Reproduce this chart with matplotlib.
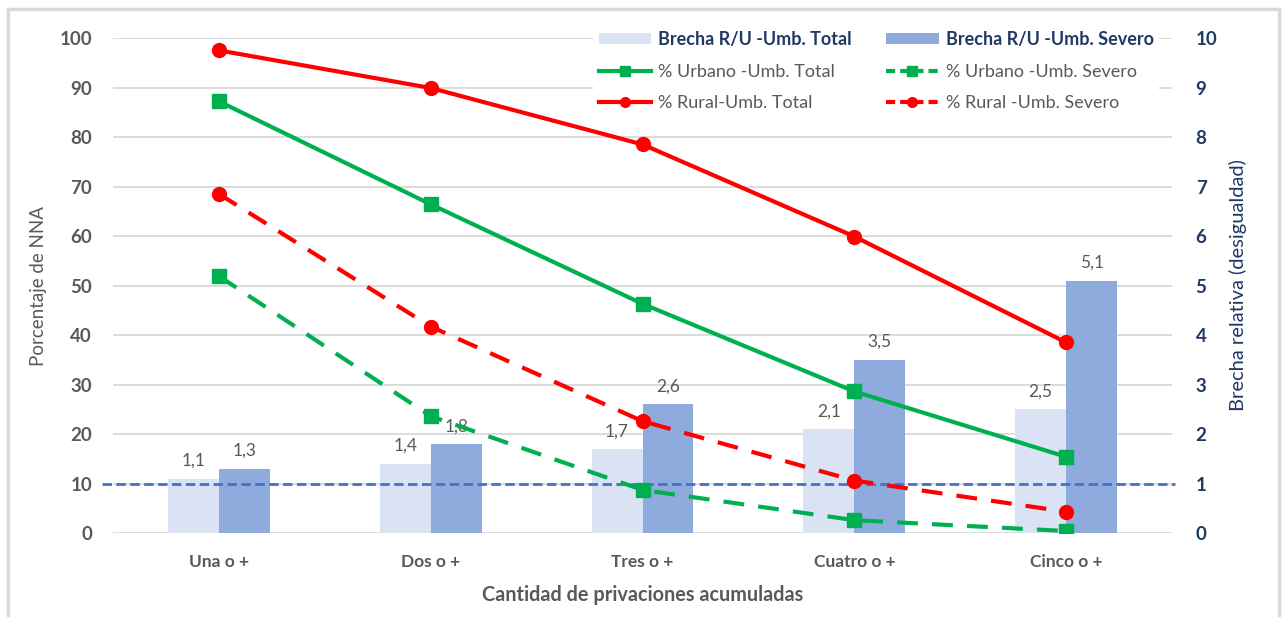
import matplotlib
matplotlib.use("Agg")
import matplotlib.pyplot as plt
from matplotlib.patches import Rectangle, Patch
from matplotlib.lines import Line2D
import numpy as np

plt.rcParams['font.family'] = ['Lato', 'DejaVu Sans']

categories = ["Una o +", "Dos o +", "Tres o +", "Cuatro o +", "Cinco o +"]

# Porcentaje de NNA con privaciones (eje izquierdo)
urbano_total = [87.2, 66.4, 46.3, 28.6, 15.4]
urbano_severo = [51.9, 23.6, 8.7, 2.6, 0.4]
rural_total = [97.5, 89.9, 78.5, 59.9, 38.5]
rural_severo = [68.5, 41.7, 22.6, 10.6, 4.3]

# Brecha relativa rural/urbano (eje derecho)
brecha_total = [1.1, 1.4, 1.7, 2.1, 2.5]
brecha_severo = [1.3, 1.8, 2.6, 3.5, 5.1]

GRAY = "#595959"
NAVY = "#1F3864"
GREEN = "#00B050"
RED = "#FF0000"
LIGHT = "#DAE3F3"
MID = "#8FAADC"
BLUE = "#4472C4"
GRID = "#D9D9D9"

fig = plt.figure(figsize=(12.83, 6.17), dpi=100)
ax2 = fig.add_axes([0.0881, 0.1361, 0.8254, 0.8023])
ax = ax2.twinx()
ax2.yaxis.tick_right()
ax2.yaxis.set_label_position("right")
ax.yaxis.tick_left()
ax.yaxis.set_label_position("left")
ax.set_zorder(ax2.get_zorder() + 1)
ax.patch.set_visible(False)

x = np.arange(len(categories))
w = 0.24

# Barras de brecha (eje derecho)
b1 = ax2.bar(x - w, brecha_total, width=w, align="edge", color=LIGHT, zorder=2)
b2 = ax2.bar(x, brecha_severo, width=w, align="edge", color=MID, zorder=2)
for bars, vals in ((b1, brecha_total), (b2, brecha_severo)):
    for r, v in zip(bars, vals):
        ax2.annotate(f"{v:.1f}".replace(".", ","),
                     (r.get_x() + r.get_width() / 2, r.get_height()),
                     xytext=(0, 7), textcoords="offset points",
                     ha="center", va="bottom", fontsize=12.5, color=GRAY)

ax2.axhline(1, xmin=-0.0104, xmax=1.003, color=BLUE, lw=2.0,
            dashes=(3.4, 1.6), clip_on=False, zorder=3)

ax2.set_ylim(0, 10)
ax2.set_yticks(range(0, 11))
ax2.grid(axis="y", color=GRID, lw=1.3, zorder=0)
ax2.set_axisbelow(True)
ax2.set_xlim(-0.5, 4.5)
ax2.set_xticks(x)
ax2.set_xticklabels(categories)

# Líneas de porcentaje (eje izquierdo)
lw = 3.0
dash = (5.0, 3.4)
ax.plot(x, rural_total, color=RED, lw=lw, marker="o", ms=10)
ax.plot(x, urbano_total, color=GREEN, lw=lw, marker="s", ms=10)
ax.plot(x, rural_severo, color=RED, lw=lw, marker="o", ms=10, dashes=dash)
ax.plot(x, urbano_severo, color=GREEN, lw=lw, marker="s", ms=10, dashes=dash)

ax.set_ylim(0, 100)
ax.set_yticks(range(0, 101, 10))
ax.set_xlim(-0.5, 4.5)

for a in (ax, ax2):
    for s in a.spines.values():
        s.set_visible(False)
    a.tick_params(length=0)

ax.tick_params(axis="y", pad=15, labelsize=13.5, labelcolor=GRAY)
ax2.tick_params(axis="y", pad=17, labelsize=13.5, labelcolor=NAVY)
ax2.tick_params(axis="x", pad=15, labelsize=12.5, labelcolor=GRAY)
for t in ax.get_yticklabels() + ax2.get_xticklabels() + ax2.get_yticklabels():
    t.set_fontweight("bold")

ax.set_ylabel("Porcentaje de NNA", fontsize=13.5, color=GRAY, labelpad=9)
ax2.set_ylabel("Brecha relativa (desigualdad)", fontsize=14.5, color=NAVY, labelpad=8)
ax2.set_xlabel("Cantidad de privaciones acumuladas", fontsize=14.3,
               color=GRAY, fontweight="bold", labelpad=11)

handles = [
    Patch(facecolor=LIGHT, edgecolor="none"),
    Line2D([], [], color=GREEN, lw=lw, marker="s", ms=7),
    Line2D([], [], color=RED, lw=lw, marker="o", ms=7),
    Patch(facecolor=MID, edgecolor="none"),
    Line2D([], [], color=GREEN, lw=lw, marker="s", ms=7, dashes=(2.2, 1.2)),
    Line2D([], [], color=RED, lw=lw, marker="o", ms=7, dashes=(2.2, 1.2)),
]
labels = ["Brecha R/U -Umb. Total", "% Urbano -Umb. Total", "% Rural-Umb. Total",
          "Brecha R/U -Umb. Severo", "% Urbano -Umb. Severo", "% Rural -Umb. Severo"]
leg = ax.legend(handles, labels, ncol=2, loc="upper left",
                bbox_to_anchor=(0.445, 1.043), frameon=True, facecolor="white",
                edgecolor="none", framealpha=1, fontsize=13,
                handlelength=2.9, handleheight=0.55, handletextpad=0.4,
                columnspacing=1.9, labelspacing=0.86, borderpad=0.3)
for i, t in enumerate(leg.get_texts()):
    if i in (0, 3):
        t.set_color(NAVY)
        t.set_fontweight("bold")
    else:
        t.set_color(GRAY)

fig.patches.append(Rectangle((8 / 1283, -0.1), 1271 / 1283, 1.1 - 9 / 617,
                             transform=fig.transFigure, fill=False,
                             edgecolor=GRID, lw=2.5))

fig.savefig("out.png", dpi=100)
